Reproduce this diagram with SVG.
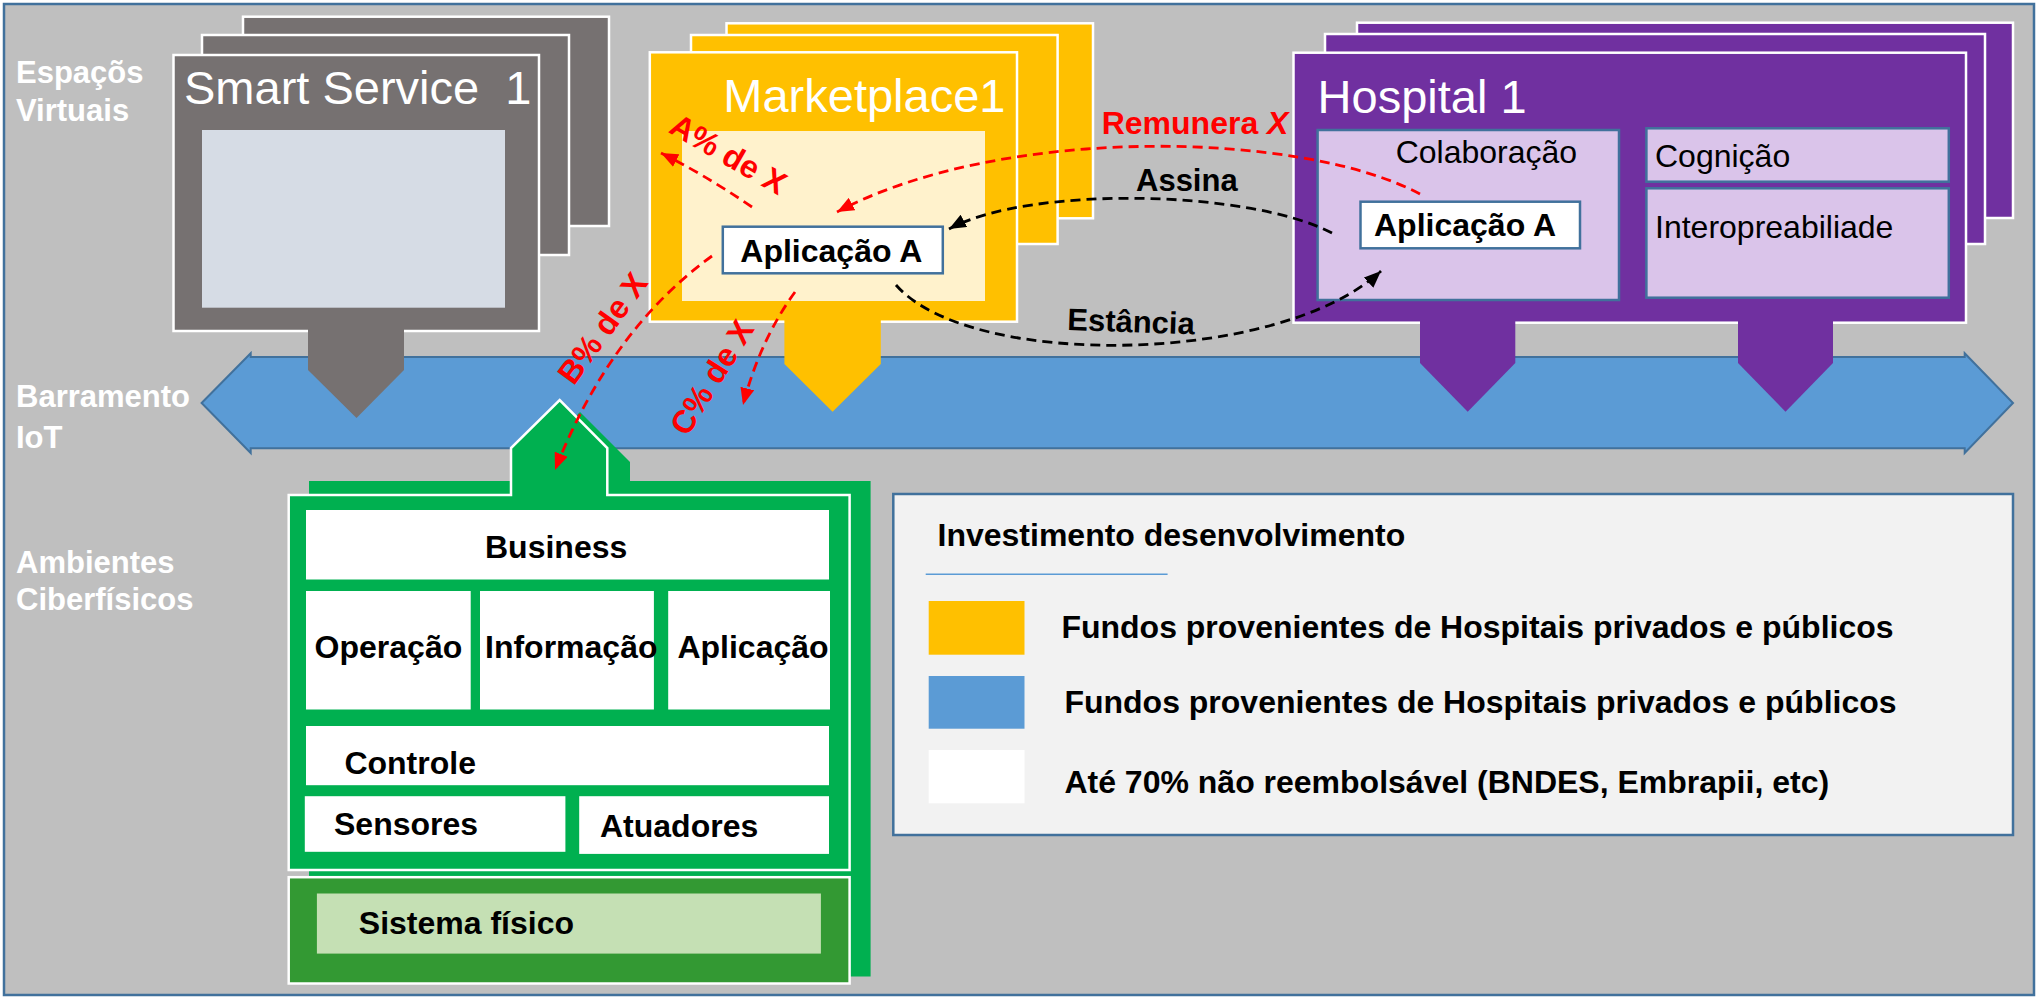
<svg xmlns="http://www.w3.org/2000/svg" width="2036" height="1001" viewBox="0 0 2036 1001">
<style>
.lbl{font-family:"Liberation Sans",Arial,sans-serif;font-weight:bold;font-size:31px;fill:#FFFFFF}
.title{font-family:"Liberation Sans",Arial,sans-serif;font-size:47px;fill:#FFFFFF}
.reg{font-family:"Liberation Sans",Arial,sans-serif;font-size:32px;fill:#000000}
.b32{font-family:"Liberation Sans",Arial,sans-serif;font-weight:bold;font-size:32px;fill:#000000}
.red{font-family:"Liberation Sans",Arial,sans-serif;font-weight:bold;font-size:32px;fill:#FF0000}
.blk{font-family:"Liberation Sans",Arial,sans-serif;font-weight:bold;font-size:31px;fill:#000000}
.wb{stroke:#FFFFFF;stroke-width:2.5}
.bb{stroke:#41719C;stroke-width:2.5}
.dr{fill:none;stroke:#FF0000;stroke-width:2.8;stroke-dasharray:10 6}
.dk{fill:none;stroke:#000000;stroke-width:2.8;stroke-dasharray:10 6}
</style>
<defs>
<marker id="ar" markerUnits="userSpaceOnUse" markerWidth="18" markerHeight="14" refX="17" refY="7" orient="auto">
<path d="M0,0 L17,7 L0,14 Z" fill="#FF0000"/>
</marker>
<marker id="ak" markerUnits="userSpaceOnUse" markerWidth="18" markerHeight="14" refX="17" refY="7" orient="auto">
<path d="M0,0 L17,7 L0,14 Z" fill="#000000"/>
</marker>
</defs>
<rect x="0" y="0" width="2036" height="1001" fill="#FFFFFF"/>
<rect x="4" y="4" width="2030" height="991" fill="#BFBFBF" stroke="#41719C" stroke-width="2.5"/>

<g id="labels">
<text class="lbl" x="16" y="83.3">Espaçõs</text>
<text class="lbl" x="16" y="120.7">Virtuais</text>
<text class="lbl" x="16" y="406.7">Barramento</text>
<text class="lbl" x="16" y="448.3">IoT</text>
<text class="lbl" x="16" y="573.3">Ambientes</text>
<text class="lbl" x="16" y="610">Ciberfísicos</text>
</g>

<g id="bus">
<polygon points="201.6,403 250.7,353.3 250.7,357 1964.7,357 1964.7,353.3 2013,403 1964.7,453 1964.7,448.3 250.7,448.3 250.7,453" fill="#5B9BD5" stroke="#41719C" stroke-width="2"/>
</g>

<g id="smart-service">
<rect x="243" y="16.7" width="366" height="209.3" fill="#767171" class="wb"/>
<rect x="202" y="35" width="367" height="220" fill="#767171" class="wb"/>
<rect x="173.5" y="55" width="365.5" height="276" fill="#767171" class="wb"/>
<rect x="202" y="130" width="303" height="177.7" fill="#D6DCE5"/>
<polygon points="308,329 404,329 404,370 356.5,418 308,370" fill="#767171"/>
<text class="title" x="184" y="104" xml:space="preserve">Smart Service  1</text>
</g>

<g id="marketplace">
<rect x="726.5" y="23.3" width="366.5" height="195" fill="#FFC000" class="wb"/>
<rect x="691" y="35" width="366.6" height="209" fill="#FFC000" class="wb"/>
<rect x="649.8" y="52.3" width="367.2" height="269.4" fill="#FFC000" class="wb"/>
<rect x="682" y="131" width="303" height="170" fill="#FFF2CC"/>
<polygon points="784.4,320 880.8,320 880.8,364 832.6,411.7 784.4,364" fill="#FFC000"/>
<text class="title" x="723.3" y="111.7">Marketplace1</text>
<g id="mk-app">
<rect x="722.8" y="226.7" width="220" height="46.6" fill="#FFFFFF" class="bb"/>
<text class="b32" x="740.3" y="261.7">Aplicação A</text>
</g>
</g>

<g id="hospital">
<rect x="1357" y="22.7" width="656" height="195.3" fill="#7030A0" class="wb"/>
<rect x="1325" y="34" width="660" height="210" fill="#7030A0" class="wb"/>
<rect x="1293.5" y="52.7" width="672.5" height="270" fill="#7030A0" class="wb"/>
<polygon points="1420,321 1515.3,321 1515.3,363 1467.7,411.7 1420,363" fill="#7030A0"/>
<polygon points="1738,321 1833,321 1833,363 1785.5,411.7 1738,363" fill="#7030A0"/>
<text class="title" x="1317.6" y="113.3">Hospital 1</text>
<g id="colaboracao">
<rect x="1317.6" y="130" width="301.4" height="170" fill="#DAC4EA" class="bb"/>
<text class="reg" x="1395.7" y="163.3">Colaboração</text>
</g>
<g id="hosp-app">
<rect x="1360.5" y="201.7" width="219.5" height="46.6" fill="#FFFFFF" class="bb"/>
<text class="b32" x="1374" y="236">Aplicação A</text>
</g>
<g id="cognicao">
<rect x="1646.4" y="128.3" width="302.4" height="53.4" fill="#DAC4EA" class="bb"/>
<text class="reg" x="1655" y="166.7">Cognição</text>
</g>
<g id="interop">
<rect x="1646.4" y="188.3" width="302.4" height="109.4" fill="#DAC4EA" class="bb"/>
<text class="reg" x="1655" y="238.3">Interopreabiliade</text>
</g>
</g>

<g id="cyber-physical">
<path d="M309,481 H530 V462 L580,412 L630,462 V481 H870.6 V976.5 H309 Z" fill="#00B050"/>
</g>
<g id="cps-front">
<path d="M288.7,495 H511 V448 L559.7,400 L607.3,448 V495 H849.6 V870 H288.7 Z" fill="#00B050" class="wb"/>
<g id="business"><rect x="306" y="510" width="523" height="69.5" fill="#FFFFFF"/><text class="b32" x="485" y="558.3">Business</text></g>
<g id="operacao"><rect x="306" y="591" width="164.7" height="118.5" fill="#FFFFFF"/><text class="b32" x="314.6" y="658.4">Operação</text></g>
<g id="informacao"><rect x="480" y="591" width="173.9" height="118.5" fill="#FFFFFF"/><text class="b32" x="485" y="658.4">Informação</text></g>
<g id="aplicacao"><rect x="668.2" y="591" width="161.8" height="118.5" fill="#FFFFFF"/><text class="b32" x="677.4" y="658.4">Aplicação</text></g>
<g id="controle"><rect x="306" y="726" width="523" height="59.2" fill="#FFFFFF"/><text class="b32" x="344.4" y="773.7">Controle</text></g>
<g id="sensores"><rect x="304.8" y="796.2" width="260.6" height="55.6" fill="#FFFFFF"/><text class="b32" x="334" y="835">Sensores</text></g>
<g id="atuadores"><rect x="579.2" y="796.2" width="249.8" height="57.7" fill="#FFFFFF"/><text class="b32" x="600" y="836.7">Atuadores</text></g>
<g id="sistema-fisico">
<rect x="288.7" y="877.2" width="560.9" height="106.3" fill="#339933" class="wb"/>
<rect x="316.9" y="893.5" width="504" height="60.1" fill="#C5E0B4"/>
<text class="b32" x="358.8" y="934.4">Sistema físico</text>
</g>
</g>

<g id="legend">
<rect x="893.3" y="494" width="1119.7" height="341" fill="#F2F2F2" stroke="#41719C" stroke-width="2.5"/>
<text class="b32" x="937.5" y="546">Investimento desenvolvimento</text>
<line x1="925.7" y1="574.3" x2="1167.6" y2="574.3" stroke="#5B9BD5" stroke-width="1.5"/>
<rect x="928.7" y="601" width="95.8" height="53.7" fill="#FFC000"/>
<text class="b32" x="1061.4" y="638.3">Fundos provenientes de Hospitais privados e públicos</text>
<rect x="928.7" y="676" width="95.8" height="52.7" fill="#5B9BD5"/>
<text class="b32" x="1064.4" y="712.7">Fundos provenientes de Hospitais privados e públicos</text>
<rect x="928.7" y="750" width="95.8" height="53.3" fill="#FFFFFF"/>
<text class="b32" x="1064.4" y="793.3">Até 70% não reembolsável (BNDES, Embrapii, etc)</text>
</g>

<g id="connectors">
<path class="dr" d="M1420,194 C1300,130 1000,125 837,212" marker-end="url(#ar)"/>
<path class="dk" d="M1332,233 C1250,190 1030,185 949,229" marker-end="url(#ak)"/>
<path class="dk" d="M896,285 C970,370 1280,365 1381,271" marker-end="url(#ak)"/>
<path class="dr" d="M752,207 Q705,175 661,153" marker-end="url(#ar)"/>
<path class="dr" d="M712,256 Q610,330 555,470" marker-end="url(#ar)"/>
<path class="dr" d="M795,292 Q760,340 743,405" marker-end="url(#ar)"/>
<text class="red" x="1101.7" y="134">Remunera <tspan font-style="italic">X</tspan></text>
<text class="blk" x="1136" y="190.5">Assina</text>
<text class="blk" x="1067" y="330" transform="rotate(2 1067 330)">Estância</text>
<text class="red" text-anchor="middle" x="0" y="11.5" transform="translate(728.7,153.7) rotate(30)">A% de X</text>
<text class="red" text-anchor="middle" x="0" y="11.5" transform="translate(602,328) rotate(-54)">B% de X</text>
<text class="red" text-anchor="middle" x="0" y="11.5" transform="translate(711.5,377) rotate(-58)">C% de X</text>
</g>
</svg>
